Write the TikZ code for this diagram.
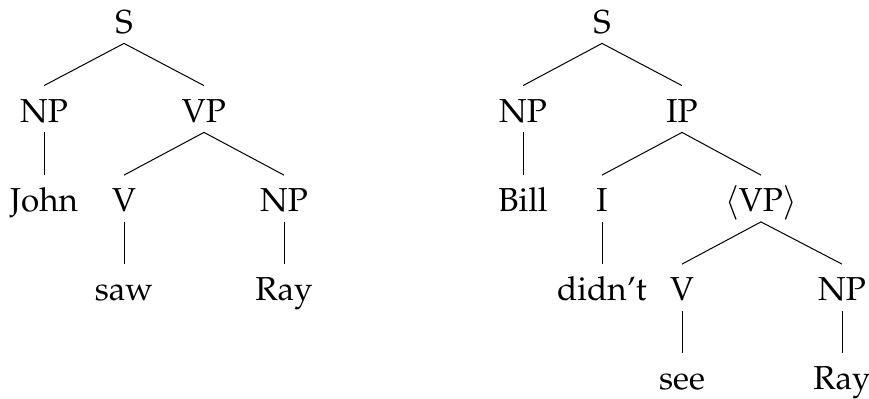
\documentclass[tikz,border=0pt]{standalone}
\usepackage[T1]{fontenc}
\usepackage{mathpazo}
\begin{document}
\begin{tikzpicture}[x=0.5pt,y=-0.5pt,
  lbl/.style={inner sep=0pt, text height=11.5pt, text depth=0pt, anchor=base,
    font=\fontsize{16.6}{20}\selectfont},
  branch/.style={line width=0.5pt}]
\useasboundingbox (0,0) rectangle (869,398);
% rows given by baselines
\def\ra{33}\def\rb{122}\def\rc{211.5}\def\rd{300.5}\def\re{389.5}
% left tree
\node[lbl] (S1)   at (124,\ra) {S};
\node[lbl] (NP1)  at (44,\rb)  {NP};
\node[lbl] (VP1)  at (204,\rb) {VP};
\node[lbl] (John) at (44,\rc)  {John};
\node[lbl] (V1)   at (124,\rc) {V};
\node[lbl] (NP2)  at (284,\rc) {NP};
\node[lbl] (saw)  at (124,\rd) {saw};
\node[lbl] (Ray1) at (284,\rd) {Ray};
% right tree
\node[lbl] (S2)   at (602,\ra) {S};
\node[lbl] (NP3)  at (523,\rb) {NP};
\node[lbl] (IP)   at (682,\rb) {IP};
\node[lbl] (Bill) at (523,\rc) {Bill};
\node[lbl] (I)    at (602,\rc) {I};
\node[lbl] (VP2)  at (761,\rc) {$\langle$VP$\rangle$};
\node[lbl] (didnt) at (602,\rd) {didn't};
\node[lbl] (V2)   at (682,\rd) {V};
\node[lbl] (NP4)  at (842,\rd) {NP};
\node[lbl] (see)  at (682,\re) {see};
\node[lbl] (Ray2) at (842,\re) {Ray};
% branches: from below the parent to above the child
\foreach \p/\c in {S1/NP1,S1/VP1,NP1/John,VP1/V1,VP1/NP2,V1/saw,NP2/Ray1,
                   S2/NP3,S2/IP,NP3/Bill,IP/I,IP/VP2,I/didnt,VP2/V2,VP2/NP4,V2/see,NP4/Ray2}
  \draw[branch] ([yshift=-5pt]\p.south) -- ([yshift=6.5pt]\c.north);
\end{tikzpicture}
\end{document}
